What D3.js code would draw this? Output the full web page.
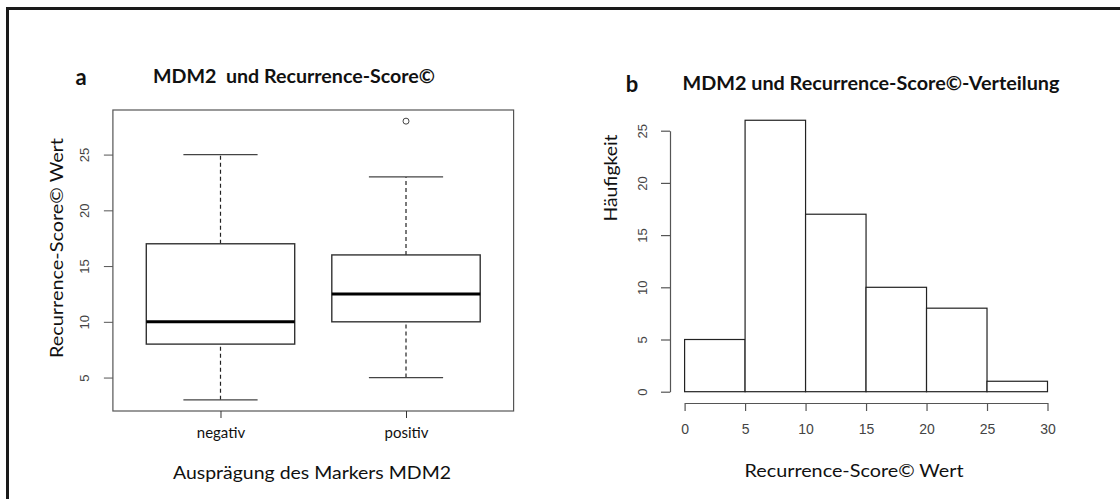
<!DOCTYPE html>
<html>
<head>
<meta charset="utf-8">
<script src="https://cdn.jsdelivr.net/npm/d3@7"></script>
<style>
  body { margin: 0; background: #fff; }
  svg { display: block; }
  text { white-space: pre; }
</style>
</head>
<body>
<svg id="chart" width="1120" height="499"></svg>
<script>
// ---- data: panel a (boxplot) ----
const groups = ["negativ", "positiv"];
const whiskerLow = [3, 5];
const quartile1 = [8, 10];
const medians = [10, 12.5];
const quartile3 = [17, 16];
const whiskerHigh = [25, 23];
const outlierGroups = ["positiv"];
const outlierValues = [28];
const yTicksA = [5, 10, 15, 20, 25];

// ---- data: panel b (histogram) ----
const binStarts = [0, 5, 10, 15, 20, 25];
const binEnds = [5, 10, 15, 20, 25, 30];
const counts = [5, 26, 17, 10, 8, 1];
const yTicksB = [0, 5, 10, 15, 20, 25];
const xTicksB = [0, 5, 10, 15, 20, 25, 30];

const svg = d3.select("#chart");
const titleFont = "Lato, 'Open Sans', sans-serif";
const tickFont = "'Liberation Sans', Arial, sans-serif";

// outer frame (only top and left edges visible)
svg.append("path")
  .attr("d", "M7.5,1120 V8.5 H1120")
  .attr("fill", "none")
  .attr("stroke", "#1a1a1a")
  .attr("stroke-width", 3);

function label(x, y, txt, size, opts = {}) {
  const t = svg.append("text")
    .attr("x", x).attr("y", y)
    .attr("text-anchor", "middle")
    .attr("dominant-baseline", "central")
    .style("font-family", titleFont)
    .style("font-size", size + "px")
    .style("font-weight", opts.bold ? "bold" : "normal")
    .attr("fill", "#111")
    .text(txt);
  if (opts.len) t.attr("textLength", opts.len).attr("lengthAdjust", "spacingAndGlyphs");
  if (opts.rotate) t.attr("transform", `rotate(-90,${x},${y})`);
  return t;
}

// ================= panel a =================
const ax = d3.scaleLinear().domain([0.42, 2.58]).range([112.9, 513.6]);
const ay = d3.scaleLinear().domain([2, 29]).range([411, 110]);
const pos = g => groups.indexOf(g) + 1;

const gA = svg.append("g");

// plot frame
gA.append("rect")
  .attr("x", ax(0.42)).attr("y", ay(29))
  .attr("width", ax(2.58) - ax(0.42)).attr("height", ay(2) - ay(29))
  .attr("fill", "none").attr("stroke", "#555").attr("stroke-width", 1.2);

// y axis
const yAxisA = gA.append("g")
  .attr("transform", `translate(${ax(0.42)},0)`)
  .call(d3.axisLeft(ay).tickValues(yTicksA).tickSize(9).tickSizeOuter(0));
yAxisA.select(".domain").remove();
yAxisA.selectAll("line").attr("stroke", "#555");
yAxisA.selectAll("text")
  .attr("x", 0).attr("dy", null)
  .attr("text-anchor", "middle")
  .attr("dominant-baseline", "central")
  .attr("transform", "translate(-28,0) rotate(-90)")
  .style("font-family", tickFont).style("font-size", "13px")
  .attr("fill", "#444");

// x axis
const xAxisA = gA.append("g")
  .attr("transform", `translate(0,${ay(2)})`)
  .call(d3.axisBottom(ax).tickValues([1, 2]).tickFormat(d => groups[d - 1]).tickSize(7).tickSizeOuter(0));
xAxisA.select(".domain").remove();
xAxisA.selectAll("line").attr("stroke", "#333");
xAxisA.selectAll("text")
  .attr("y", 27).attr("dy", null)
  .style("font-family", titleFont).style("font-size", "15px")
  .attr("fill", "#111");

// boxes
const boxW = 0.8, stapleW = 0.4;
groups.forEach((g, i) => {
  const c = ax(pos(g));
  const bx = gA.append("g");
  // whiskers
  [[whiskerLow[i], quartile1[i]], [quartile3[i], whiskerHigh[i]]].forEach(([a, b]) => {
    bx.append("line")
      .attr("x1", c).attr("x2", c).attr("y1", ay(a)).attr("y2", ay(b))
      .attr("stroke", "#222").attr("stroke-width", 1.2)
      .attr("stroke-dasharray", "4,3");
  });
  // staples
  [whiskerLow[i], whiskerHigh[i]].forEach(v => {
    bx.append("line")
      .attr("x1", ax(pos(g) - stapleW / 2)).attr("x2", ax(pos(g) + stapleW / 2))
      .attr("y1", ay(v)).attr("y2", ay(v))
      .attr("stroke", "#444").attr("stroke-width", 1.3);
  });
  // box
  bx.append("rect")
    .attr("x", ax(pos(g) - boxW / 2)).attr("y", ay(quartile3[i]))
    .attr("width", ax(pos(g) + boxW / 2) - ax(pos(g) - boxW / 2))
    .attr("height", ay(quartile1[i]) - ay(quartile3[i]))
    .attr("fill", "#fff").attr("stroke", "#333").attr("stroke-width", 1.4);
  // median
  bx.append("line")
    .attr("x1", ax(pos(g) - boxW / 2)).attr("x2", ax(pos(g) + boxW / 2))
    .attr("y1", ay(medians[i])).attr("y2", ay(medians[i]))
    .attr("stroke", "#000").attr("stroke-width", 3);
});

// outliers
gA.selectAll("circle.out")
  .data(outlierValues)
  .join("circle")
  .attr("class", "out")
  .attr("cx", (d, i) => ax(pos(outlierGroups[i])))
  .attr("cy", d => ay(d))
  .attr("r", 3)
  .attr("fill", "none").attr("stroke", "#444").attr("stroke-width", 1);

// panel a texts
label(81, 76, "a", 22, { bold: true });
label(294, 76, "MDM2  und Recurrence-Score©", 18, { bold: true, len: 282 });
label(56, 248, "Recurrence-Score© Wert", 18, { rotate: true, len: 220 });
label(312, 472, "Ausprägung des Markers MDM2", 18, { len: 278 });

// ================= panel b =================
const bx = d3.scaleLinear().domain([0, 30]).range([684.6, 1047.5]);
const by = d3.scaleLinear().domain([0, 25]).range([391.7, 130.7]);

const gB = svg.append("g");

gB.selectAll("rect.bar")
  .data(counts)
  .join("rect")
  .attr("class", "bar")
  .attr("x", (d, i) => bx(binStarts[i]))
  .attr("y", d => by(d))
  .attr("width", (d, i) => bx(binEnds[i]) - bx(binStarts[i]))
  .attr("height", d => by(0) - by(d))
  .attr("fill", "#fff").attr("stroke", "#222").attr("stroke-width", 1.2);

const yAxisB = gB.append("g")
  .attr("transform", `translate(670,0)`)
  .call(d3.axisLeft(by).tickValues(yTicksB).tickSize(9).tickSizeOuter(0));
yAxisB.selectAll("line, .domain").attr("stroke", "#555").attr("stroke-width", 1.2);
yAxisB.selectAll("text")
  .attr("x", 0).attr("dy", null)
  .attr("text-anchor", "middle")
  .attr("dominant-baseline", "central")
  .attr("transform", "translate(-28,0) rotate(-90)")
  .style("font-family", tickFont).style("font-size", "13px")
  .attr("fill", "#444");

const xAxisB = gB.append("g")
  .attr("transform", `translate(0,403)`)
  .call(d3.axisBottom(bx).tickValues(xTicksB).tickSize(8).tickSizeOuter(0));
xAxisB.selectAll("line, .domain").attr("stroke", "#555").attr("stroke-width", 1.2);
xAxisB.selectAll("text")
  .attr("y", 25.5).attr("dy", null)
  .attr("dominant-baseline", "central")
  .style("font-family", tickFont).style("font-size", "14px")
  .attr("fill", "#444");

label(632, 83, "b", 22, { bold: true });
label(871, 83, "MDM2 und Recurrence-Score©-Verteilung", 18, { bold: true, len: 377 });
label(610, 178, "Häufigkeit", 17, { rotate: true, len: 87 });
label(854, 470, "Recurrence-Score© Wert", 18, { len: 219 });
</script>
</body>
</html>
